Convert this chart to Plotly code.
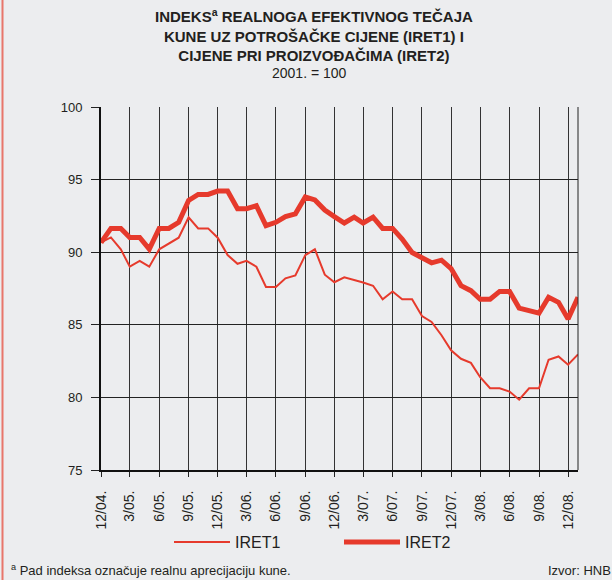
import plotly.graph_objects as go
import pandas as pd

# ---- data (monthly, 12/2004 - 1/2009) ----
months = pd.date_range("2004-12-01", "2009-01-01", freq="MS").strftime("%Y-%m-%d").tolist()

iret1 = [90.67, 91.02, 90.2, 89.0, 89.4, 89.0, 90.2, 90.6, 91.0, 92.4,
         91.64, 91.64, 91.0, 89.8, 89.2, 89.4, 89.0, 87.6, 87.6, 88.2,
         88.4, 89.8, 90.2, 88.45, 87.93, 88.27, 88.09, 87.91, 87.69, 86.76,
         87.29, 86.76, 86.76, 85.6, 85.2, 84.28, 83.24, 82.66, 82.38, 81.39,
         80.63, 80.63, 80.4, 79.84, 80.63, 80.63, 82.59, 82.82, 82.25, 82.96]

iret2 = [90.67, 91.64, 91.64, 91.02, 91.02, 90.21, 91.64, 91.64, 92.06, 93.56,
         93.98, 93.98, 94.21, 94.21, 93.0, 93.0, 93.2, 91.83, 92.06, 92.45,
         92.64, 93.8, 93.6, 92.9, 92.45, 92.01, 92.41, 92.01, 92.41, 91.64,
         91.64, 90.9, 89.98, 89.65, 89.27, 89.45, 88.87, 87.7, 87.35, 86.76,
         86.76, 87.3, 87.3, 86.15, 85.97, 85.8, 86.9, 86.55, 85.4, 86.9]

tick_dates = ["2004-12-01", "2005-03-01", "2005-06-01", "2005-09-01", "2005-12-01",
              "2006-03-01", "2006-06-01", "2006-09-01", "2006-12-01", "2007-03-01",
              "2007-06-01", "2007-09-01", "2007-12-01", "2008-03-01", "2008-06-01",
              "2008-09-01", "2008-12-01"]
tick_labels = ["12/04.", "3/05.", "6/05.", "9/05.", "12/05.", "3/06.", "6/06.", "9/06.",
               "12/06.", "3/07.", "6/07.", "9/07.", "12/07.", "3/08.", "6/08.", "9/08.",
               "12/08."]
y_ticks = [75, 80, 85, 90, 95, 100]

# ---- style ----
W, H = 612, 580
ML, MR, MT, MB = 101, 34, 107, 110
PW, PH = W - ML - MR, H - MT - MB
BG = "#ECEDEF"
RED = "#E63A2C"
TXT = "#231F20"
FONT = "Liberation Sans, Arial, sans-serif"


def px_x(px):
    return (px - ML) / PW


def px_y(py):
    return (H - MB - py) / PH


fig = go.Figure()
fig.add_trace(go.Scatter(x=months, y=iret1, mode="lines", name="IRET1",
                         line=dict(color=RED, width=2)))
fig.add_trace(go.Scatter(x=months, y=iret2, mode="lines", name="IRET2",
                         line=dict(color=RED, width=5)))

fig.update_layout(
    width=W, height=H,
    margin=dict(l=ML, r=MR, t=MT, b=MB, pad=0, autoexpand=False),
    paper_bgcolor=BG, plot_bgcolor=BG,
    font=dict(family=FONT, color=TXT, size=13),
    showlegend=True,
    legend=dict(orientation="h", x=px_x(169), xanchor="left",
                y=px_y(542), yanchor="middle",
                itemwidth=56,
                entrywidth=99, entrywidthmode="pixels",
                font=dict(size=16, color=TXT), bgcolor="rgba(0,0,0,0)"),
    xaxis=dict(
        type="date", range=[months[0], months[-1]],
        tickmode="array", tickvals=tick_dates, ticktext=tick_labels,
        tickangle=-90, ticks="outside", ticklen=5, tickcolor="#222",
        ticklabelstandoff=8, automargin=False,
        showgrid=True, gridcolor="#333", gridwidth=1,
        showline=True, linecolor="#111", linewidth=2,
        tickfont=dict(size=14, color=TXT), zeroline=False,
    ),
    yaxis=dict(
        range=[75, 100], tickmode="array", tickvals=y_ticks,
        ticks="outside", ticklen=8, tickcolor="#222",
        ticklabelstandoff=6, automargin=False,
        showgrid=True, gridcolor="#222", gridwidth=1,
        showline=True, linecolor="#111", linewidth=2,
        tickfont=dict(size=13, color=TXT), zeroline=False,
    ),
)

# right frame line and left red page border
fig.add_shape(type="line", xref="paper", yref="paper", x0=1, x1=1, y0=0, y1=1,
              line=dict(color="#222", width=1))
fig.add_shape(type="line", xref="paper", yref="paper", x0=px_x(2.5), x1=px_x(2.5),
              y0=px_y(0), y1=px_y(H), line=dict(color="#E8766B", width=2))

fig.add_annotation(
    text="<b>INDEKS<sup>a</sup> REALNOGA EFEKTIVNOG TEČAJA<br>"
         "KUNE UZ POTROŠAČKE CIJENE (IRET1) I<br>"
         "CIJENE PRI PROIZVOĐAČIMA (IRET2)</b>",
    xref="paper", yref="paper", x=px_x(314), y=px_y(35),
    xanchor="center", yanchor="middle", align="center", showarrow=False,
    font=dict(size=15, color=TXT, family=FONT))
fig.add_annotation(text="2001. = 100", xref="paper", yref="paper",
                   x=px_x(309), y=px_y(73), xanchor="center", yanchor="middle",
                   showarrow=False, font=dict(size=14, color=TXT, family=FONT))

fig.add_annotation(text="<sup>a</sup> Pad indeksa označuje realnu aprecijaciju kune.",
                   xref="paper", yref="paper", x=px_x(9), y=px_y(570),
                   xanchor="left", yanchor="middle", showarrow=False,
                   font=dict(size=13, color=TXT, family=FONT))
fig.add_annotation(text="Izvor: HNB", xref="paper", yref="paper", x=px_x(546), y=px_y(570),
                   xanchor="left", yanchor="middle", showarrow=False,
                   font=dict(size=13, color=TXT, family=FONT))

fig.write_html("out.html", config={"displayModeBar": False},
               post_script="document.body.style.margin='0px';")
